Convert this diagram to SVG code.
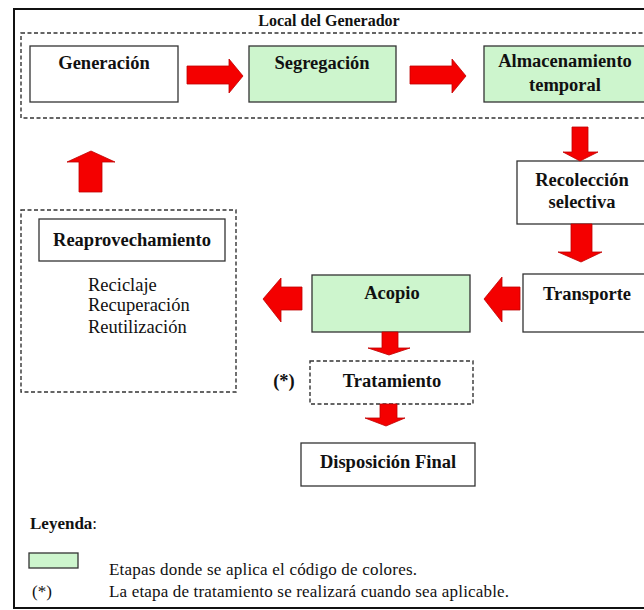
<svg xmlns="http://www.w3.org/2000/svg" width="644" height="610" viewBox="0 0 644 610" font-family="'Liberation Serif', 'DejaVu Serif', 'Times New Roman', serif">
<style>
text{font-family:'Liberation Serif','DejaVu Serif','Times New Roman',serif;fill:#111}
.lbl{font-size:18.5px;font-weight:bold;text-anchor:middle}
.item{font-size:18.5px}
.leg{font-size:17px}
.box{fill:#fff;stroke:#333;stroke-width:1.3}
.green{fill:#cdf5cd;stroke:#333;stroke-width:1.3}
.dash{fill:none;stroke:#333;stroke-width:1.4;stroke-dasharray:4 2.5}
.dashbox{fill:#fff;stroke:#333;stroke-width:1.4;stroke-dasharray:4 2.5}
.arr{fill:#f40000;stroke:#c00000;stroke-width:0.8;stroke-linejoin:miter}
</style>
<rect x="0" y="0" width="644" height="610" fill="#fff"/>
<rect x="14" y="9" width="640" height="599" fill="none" stroke="#111" stroke-width="2"/>

<g id="local-generador">
<rect class="dash" x="21" y="33" width="640" height="85"/>
<text x="329" y="26" font-size="16" font-weight="bold" text-anchor="middle">Local del Generador</text>
</g>

<g id="generacion">
<rect class="box" x="30" y="46" width="148" height="56"/>
<text class="lbl" x="104" y="69">Generación</text>
</g>

<g id="segregacion">
<rect class="green" x="249" y="46" width="147" height="56"/>
<text class="lbl" x="322" y="69">Segregación</text>
</g>

<g id="almacenamiento">
<rect class="green" x="484" y="46" width="162" height="56"/>
<text class="lbl" x="565" y="67">Almacenamiento</text>
<text class="lbl" x="565" y="91">temporal</text>
</g>

<g id="recoleccion">
<rect class="box" x="517" y="161" width="131" height="63"/>
<text class="lbl" x="582" y="186">Recolección</text>
<text class="lbl" x="582" y="208">selectiva</text>
</g>

<g id="transporte">
<rect class="box" x="523" y="274" width="128" height="58"/>
<text class="lbl" x="587" y="300">Transporte</text>
</g>

<g id="acopio">
<rect class="green" x="312" y="275" width="158" height="57"/>
<text class="lbl" x="392" y="299">Acopio</text>
</g>

<g id="reaprovechamiento">
<rect class="dashbox" x="21" y="210" width="215" height="182"/>
<rect class="box" x="39" y="219" width="186" height="42"/>
<text class="lbl" x="132" y="246">Reaprovechamiento</text>
<text class="item" x="88" y="291">Reciclaje</text>
<text class="item" x="88" y="311">Recuperación</text>
<text class="item" x="88" y="333">Reutilización</text>
</g>

<g id="tratamiento">
<rect class="dashbox" x="310" y="361" width="163" height="43"/>
<text class="lbl" x="392" y="387">Tratamiento</text>
<text class="lbl" x="284" y="387">(*)</text>
</g>

<g id="disposicion">
<rect class="box" x="301" y="443" width="174" height="43"/>
<text class="lbl" x="388" y="468">Disposición Final</text>
</g>

<g id="connectors">
<polygon class="arr" points="187,66 229,66 229,59 243,76 229,93 229,84 187,84"/>
<polygon class="arr" points="410,66 452,66 452,59 466,76 452,93 452,84 410,84"/>
<polygon class="arr" points="572,127 588,127 588,152 598,152 580,161 563,152 572,152"/>
<polygon class="arr" points="571,224 592,224 592,252 602,252 581,262 558,252 571,252"/>
<polygon class="arr" points="520,287 520,310 502,310 502,322 484,299 502,277 502,287"/>
<polygon class="arr" points="302,287 302,310 281,310 281,322 263,299 281,278 281,287"/>
<polygon class="arr" points="79,192 102,192 102,162 115,162 91,151 67,162 79,162"/>
<polygon class="arr" points="382,332 398,332 398,348 410,348 389,355 368,348 382,348"/>
<polygon class="arr" points="380,404 397,404 397,418 405,418 386,426 365,418 380,418"/>
</g>

<g id="legend">
<text x="30" y="529" font-size="17" font-weight="bold">Leyenda<tspan font-weight="normal">:</tspan></text>
<rect class="green" x="29" y="553" width="49" height="15"/>
<text class="leg" x="109" y="575" textLength="308" lengthAdjust="spacing">Etapas donde se aplica el código de colores.</text>
<text class="leg" x="32" y="597">(*)</text>
<text class="leg" x="109" y="597" textLength="400" lengthAdjust="spacing">La etapa de tratamiento se realizará cuando sea aplicable.</text>
</g>
</svg>
